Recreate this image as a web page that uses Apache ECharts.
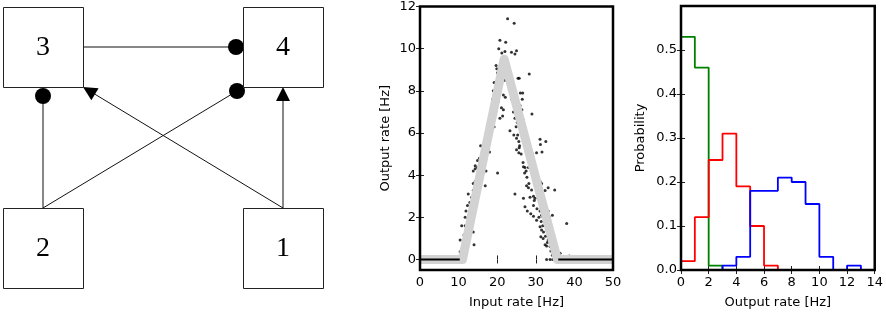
<!DOCTYPE html>
<html>
<head>
<meta charset="utf-8">
<script src="https://cdn.jsdelivr.net/npm/echarts@6/dist/echarts.min.js"></script>
<style>
  html, body { margin: 0; padding: 0; background: #fff; }
  #chart { width: 886px; height: 314px; }
</style>
</head>
<body>
<div id="chart"></div>
<script>
// diagram: node label, x, y (diagram units = px)
var diagramNodes = [['3', 43, 47], ['4', 283, 47], ['2', 43, 248], ['1', 283, 248]];
// connections: x0, y0, x1, y1, end marker (0 = dot, 1 = arrow)
var diagramEdges = [
  [83, 47, 236, 47, 0],
  [43, 208, 43, 96, 0],
  [43, 208, 237, 91, 0],
  [283, 208, 83, 87, 1],
  [283, 208, 283, 87, 1]
];

// middle panel: input rate vs output rate
var transferCurve = [[0, 0], [11, 0], [21.8, 9.5], [35.6, 0], [50, 0]];
var zeroLeft = [[0, 0], [10.3, 0]];
var zeroRight = [[35.8, 0], [50, 0]];
var scatterPoints = [
  [22.7, 11.42], [24.4, 11.2], [20.7, 10.4], [22.2, 10.3], [20.4, 10.0], [23.7, 9.83], [25.0, 9.9],
  [21.2, 9.8], [22.0, 9.86], [24.6, 9.75], [19.7, 9.2], [19.9, 9.05], [20.7, 9.1], [21.1, 9.05],
  [21.8, 9.1], [22.2, 8.97], [21.6, 8.9], [28.3, 8.8], [20.1, 8.86], [19.2, 8.4], [20.0, 8.5],
  [22.0, 8.5], [19.7, 8.1], [19.0, 8.0], [20.3, 7.95], [21.6, 7.8], [22.1, 7.7], [25.4, 8.6],
  [25.7, 8.6], [23.5, 8.2], [26.0, 7.9], [26.6, 7.9], [18.8, 7.6], [19.5, 7.6], [20.3, 7.5],
  [21.1, 7.2], [21.6, 7.1], [18.3, 7.0], [18.8, 6.9], [21.4, 6.8], [20.7, 6.7], [26.5, 7.6],
  [25.9, 7.3], [26.4, 7.1], [25.0, 6.9], [29.0, 6.9], [26.8, 6.6], [25.2, 6.5], [25.6, 6.4],
  [18.6, 6.5], [19.2, 6.3], [18.1, 6.2], [17.6, 5.9], [17.1, 5.8], [23.3, 6.1], [24.3, 5.9],
  [26.3, 6.1], [26.6, 5.9], [27.0, 5.8], [25.0, 5.75], [25.6, 5.6], [31.1, 5.7], [32.6, 5.6],
  [16.6, 5.45], [17.3, 5.3], [15.7, 5.4], [18.0, 5.1], [31.2, 5.45], [31.6, 5.1], [30.2, 5.06],
  [27.6, 5.1], [25.0, 5.2], [25.6, 5.06], [25.7, 5.3], [28.8, 5.06], [29.2, 5.0],
  [15.4, 4.8], [16.0, 4.8], [14.9, 4.7], [15.5, 4.6], [14.3, 4.45], [14.9, 4.36], [17.1, 4.2],
  [20.1, 4.1], [14.3, 4.3], [13.8, 4.2], [26.8, 4.4], [27.2, 4.36], [28.1, 4.36], [28.7, 4.3],
  [27.5, 4.2], [29.4, 4.1], [29.8, 4.0], [30.2, 3.9], [30.7, 3.8], [31.1, 3.7], [31.5, 3.6],
  [14.9, 3.8], [14.3, 3.7], [13.8, 3.6], [16.9, 3.5], [14.3, 3.34], [13.8, 3.27], [14.7, 3.1],
  [13.4, 2.95], [12.5, 3.1], [13.6, 2.8], [14.3, 2.8], [24.6, 3.1], [27.6, 3.5], [28.1, 3.4],
  [29.4, 3.0], [28.5, 2.95], [29.8, 2.9], [30.7, 3.27], [31.1, 3.1], [32.4, 3.27], [34.9, 3.3],
  [33.2, 3.4], [12.9, 2.7], [12.3, 2.56], [11.9, 2.3], [12.9, 2.25], [13.8, 2.3], [11.7, 2.0],
  [12.5, 1.94], [26.8, 2.9], [27.2, 2.5], [27.8, 2.3], [28.7, 2.17], [29.4, 2.56], [31.1, 2.3],
  [31.5, 2.1], [31.9, 2.0], [32.6, 2.17], [33.2, 2.3], [33.5, 2.0], [34.3, 2.1], [29.4, 2.05],
  [10.8, 1.6], [11.7, 1.6], [12.3, 1.55], [13.1, 1.4], [13.8, 1.3], [10.4, 0.92], [11.4, 1.16],
  [12.1, 1.08], [31.1, 1.55], [31.5, 1.4], [32.8, 1.4], [33.5, 1.4], [34.1, 1.16], [31.3, 1.08],
  [31.9, 1.0], [38.0, 1.7], [30.2, 1.86], [31.8, 1.6], [14.0, 0.7], [10.8, 0.45], [10.4, 0.37],
  [10.6, 0.22], [11.2, 0.53], [32.4, 0.7], [32.8, 0.64], [33.7, 0.61], [34.5, 0.53], [34.8, 0.37],
  [36.3, 0.3], [38.7, 0.17], [33.2, 0.92], [34.1, 0.77], [34.8, 0.92],
  [32.8, 0], [33.7, 0], [34.4, 0], [35.0, 0], [36.3, 0], [37.0, 0],
  [11.0, 0.3], [11.3, 0.6], [11.6, 0.9], [11.8, 1.2], [12.2, 1.3], [12.4, 1.7], [12.7, 1.5],
  [13.0, 2.0], [13.2, 2.4], [13.5, 2.6], [13.9, 2.5], [14.1, 3.0], [14.5, 3.2], [14.8, 3.5],
  [15.1, 3.6], [15.3, 4.0], [15.6, 4.2], [15.9, 4.5], [16.2, 4.4], [16.4, 4.9], [16.8, 5.0],
  [17.0, 5.3], [17.4, 5.6], [17.7, 5.7], [18.0, 6.0], [18.3, 6.4], [18.5, 6.6], [18.9, 6.8],
  [19.1, 7.2], [19.4, 7.4], [19.6, 7.8], [19.9, 7.7], [20.2, 8.1], [20.5, 8.3], [20.8, 8.7],
  [21.0, 8.6], [21.3, 9.0], [21.5, 9.3], [20.6, 7.9], [19.3, 6.9], [17.9, 5.6], [16.5, 4.7],
  [15.0, 3.9], [13.7, 2.9], [12.6, 2.1],
  [22.5, 9.2], [23.0, 8.8], [23.4, 8.0], [23.8, 7.6], [24.2, 7.0], [24.6, 6.7], [24.9, 6.3],
  [25.3, 5.9], [25.8, 5.4], [26.2, 5.0], [26.7, 4.6], [27.1, 4.1], [27.7, 3.9], [28.2, 3.6],
  [28.9, 3.3], [29.6, 2.8], [30.3, 2.4], [30.8, 2.0], [31.4, 1.8], [32.0, 1.3], [32.5, 1.1],
  [33.0, 0.8], [33.9, 0.4], [34.3, 0.2], [35.2, 0.1], [30.5, 3.6], [29.1, 4.4], [27.9, 4.9],
  [26.1, 6.8], [24.0, 7.8], [23.2, 8.6]
];
var inputTicks = [0, 10, 20, 30, 40, 50];
var outputTicks = [0, 2, 4, 6, 8, 10, 12];

// right panel: histograms of output rate (bins of 1 Hz)
var greenStart = 0, greenProb = [0.53, 0.46, 0.01];
var redStart = 0, redProb = [0.02, 0.12, 0.25, 0.31, 0.19, 0.10, 0.01];
var blueStart = 3, blueProb = [0.01, 0.03, 0.18, 0.18, 0.21, 0.20, 0.15, 0.03, 0, 0.01];
var rateTicks = [0, 2, 4, 6, 8, 10, 12, 14];
var probTicks = [0, 0.1, 0.2, 0.3, 0.4, 0.5];

function stepData(start, probs) {
  var pts = [[start, 0]];
  probs.forEach(function (p, i) { pts.push([start + i, p]); });
  pts.push([start + probs.length, 0]);
  return pts;
}

var chart = echarts.init(document.getElementById('chart'));
var tickFont = { fontFamily: 'DejaVu Sans', fontSize: 13, color: '#000' };
var nameFont = { fontFamily: 'DejaVu Sans', fontSize: 13, color: '#000' };
var innerTick = { show: true, inside: true, length: 4, lineStyle: { color: '#222', width: 1 } };

function frameAxis(extra) {
  return Object.assign({
    type: 'value',
    axisLine: { show: false },
    splitLine: { show: false },
    axisLabel: { show: false },
    axisTick: innerTick
  }, extra);
}

var option = {
  animation: false,
  grid: [
    { left: 0, top: 0, width: 330, height: 300 },
    { left: 420, top: 6, width: 193, height: 268, show: true, borderColor: '#000', borderWidth: 2.5, z: 10 },
    { left: 681, top: 6, width: 195, height: 268, show: true, borderColor: '#000', borderWidth: 2.5, z: 10 }
  ],
  xAxis: [
    { type: 'value', gridIndex: 0, min: 0, max: 330, show: false },
    frameAxis({
      gridIndex: 1, min: 0, max: 50, interval: 10,
      axisTick: Object.assign({ customValues: inputTicks }, innerTick),
      axisLabel: Object.assign({ show: true, margin: 6, customValues: inputTicks }, tickFont),
      name: 'Input rate [Hz]', nameLocation: 'middle', nameGap: 26, nameTextStyle: nameFont
    }),
    frameAxis({ gridIndex: 1, position: 'top', min: 0, max: 50, interval: 10 }),
    frameAxis({
      gridIndex: 2, min: 0, max: 14, interval: 2,
      axisTick: Object.assign({ customValues: rateTicks }, innerTick),
      axisLabel: Object.assign({ show: true, margin: 6, customValues: rateTicks }, tickFont),
      name: 'Output rate [Hz]', nameLocation: 'middle', nameGap: 26, nameTextStyle: nameFont
    }),
    frameAxis({ gridIndex: 2, position: 'top', min: 0, max: 14, interval: 2 })
  ],
  yAxis: [
    { type: 'value', gridIndex: 0, min: 0, max: 300, inverse: true, show: false },
    frameAxis({
      gridIndex: 1, min: -0.5, max: 12,
      axisTick: Object.assign({ customValues: outputTicks }, innerTick),
      axisLabel: Object.assign({ show: true, margin: 4, customValues: outputTicks }, tickFont),
      name: 'Output rate [Hz]', nameLocation: 'middle', nameGap: 28, nameTextStyle: nameFont
    }),
    frameAxis({
      gridIndex: 1, position: 'right', min: -0.5, max: 12,
      axisTick: Object.assign({ customValues: outputTicks }, innerTick)
    }),
    frameAxis({
      gridIndex: 2, min: 0, max: 0.6,
      axisTick: Object.assign({ customValues: probTicks }, innerTick),
      axisLabel: Object.assign({
        show: true, margin: 4, customValues: probTicks,
        formatter: function (v) { return v.toFixed(1); }
      }, tickFont),
      name: 'Probability', nameLocation: 'middle', nameGap: 34, nameTextStyle: nameFont
    }),
    frameAxis({
      gridIndex: 2, position: 'right', min: 0, max: 0.6,
      axisTick: Object.assign({ customValues: probTicks }, innerTick)
    })
  ],
  series: [
    {
      type: 'custom', xAxisIndex: 0, yAxisIndex: 0,
      data: diagramEdges,
      renderItem: function (params, api) {
        var p0 = api.coord([api.value(0), api.value(1)]);
        var p1 = api.coord([api.value(2), api.value(3)]);
        var kind = api.value(4);
        var dx = p1[0] - p0[0], dy = p1[1] - p0[1];
        var len = Math.sqrt(dx * dx + dy * dy);
        var ux = dx / len, uy = dy / len;
        var children = [];
        if (kind === 0) {
          children.push({ type: 'line', shape: { x1: p0[0], y1: p0[1], x2: p1[0], y2: p1[1] },
            style: { stroke: '#111', lineWidth: 1 } });
          children.push({ type: 'circle', shape: { cx: p1[0], cy: p1[1], r: 8 }, style: { fill: '#000' } });
        } else {
          var bx = p1[0] - ux * 14, by = p1[1] - uy * 14;
          children.push({ type: 'line', shape: { x1: p0[0], y1: p0[1], x2: bx, y2: by },
            style: { stroke: '#111', lineWidth: 1 } });
          children.push({ type: 'polygon', shape: { points: [
            [p1[0], p1[1]], [bx - uy * 7, by + ux * 7], [bx + uy * 7, by - ux * 7]
          ] }, style: { fill: '#000' } });
        }
        return { type: 'group', children: children };
      }
    },
    {
      type: 'custom', xAxisIndex: 0, yAxisIndex: 0,
      data: diagramNodes.map(function (n) { return [n[1], n[2]]; }),
      renderItem: function (params, api) {
        var c = api.coord([api.value(0), api.value(1)]);
        var s = api.size([80, 80]);
        var w = Math.abs(s[0]), h = Math.abs(s[1]);
        return { type: 'group', children: [
          { type: 'rect', shape: { x: Math.round(c[0] - w / 2) + 0.5, y: Math.round(c[1] - h / 2) + 0.5, width: w, height: h },
            style: { fill: '#fff', stroke: '#222', lineWidth: 1 } },
          { type: 'text', style: { text: diagramNodes[params.dataIndex][0], x: c[0], y: c[1] + 1,
            align: 'center', verticalAlign: 'middle', fontFamily: 'Liberation Serif', fontSize: 28, fill: '#000' } }
        ] };
      }
    },
    {
      type: 'line', xAxisIndex: 1, yAxisIndex: 1, data: transferCurve,
      symbol: 'none', lineStyle: { color: '#d2d2d2', width: 9, join: 'round', cap: 'butt' }
    },
    {
      type: 'line', xAxisIndex: 1, yAxisIndex: 1, data: zeroLeft,
      symbol: 'none', lineStyle: { color: '#000', width: 2 }
    },
    {
      type: 'line', xAxisIndex: 1, yAxisIndex: 1, data: zeroRight,
      symbol: 'none', lineStyle: { color: '#000', width: 2 }
    },
    {
      type: 'scatter', xAxisIndex: 1, yAxisIndex: 1, data: scatterPoints,
      symbol: 'circle', symbolSize: 3, itemStyle: { color: '#000' }
    },
    {
      type: 'line', xAxisIndex: 3, yAxisIndex: 3, data: stepData(greenStart, greenProb), step: 'end',
      symbol: 'none', lineStyle: { color: '#008000', width: 1.8 }
    },
    {
      type: 'line', xAxisIndex: 3, yAxisIndex: 3, data: stepData(redStart, redProb), step: 'end',
      symbol: 'none', lineStyle: { color: '#ff0000', width: 1.8 }
    },
    {
      type: 'line', xAxisIndex: 3, yAxisIndex: 3, data: stepData(blueStart, blueProb), step: 'end',
      symbol: 'none', lineStyle: { color: '#0000ff', width: 1.8 }
    }
  ]
};
chart.setOption(option);
</script>
</body>
</html>
